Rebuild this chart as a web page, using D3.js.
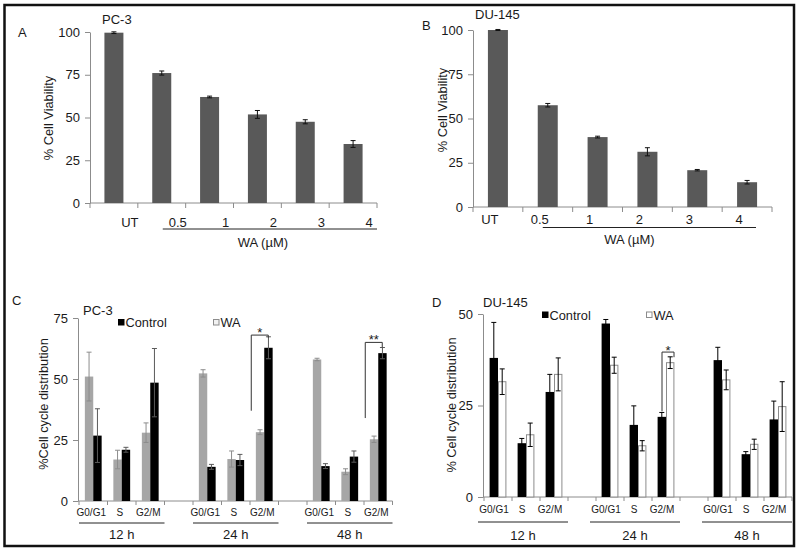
<!DOCTYPE html>
<html><head><meta charset="utf-8">
<script src="https://cdn.jsdelivr.net/npm/d3@7"></script>
<style>
body{margin:0;background:#fff}
svg{display:block;font-family:"Liberation Sans",Arial,sans-serif}
</style>
</head><body>
<svg id="c" width="800" height="552"></svg>
<script>
// ---------- data ----------
const viaCats = ["UT", "0.5", "1", "2", "3", "4"];
const pc3Via = [99.6, 76, 62, 51.8, 47.5, 34.5];
const pc3ViaErr = [0.5, 1.2, 0.5, 2.3, 1.2, 2.0];
const du145Via = [100, 57.5, 39.5, 31.2, 20.8, 14];
const du145ViaErr = [0.3, 1.0, 0.5, 2.3, 0.4, 1.0];
const viaTicks = [0, 25, 50, 75, 100];

const phases = ["G0/G1", "S", "G2/M"];
const times = ["12 h", "24 h", "48 h"];

// PC-3 cycle (order: 12h G0/G1,S,G2/M, 24h ..., 48h ...)
const pc3Gray = [51, 17, 28, 52.3, 17.2, 28.2, 58, 12, 25.3];
const pc3GrayErr = [10, 3.8, 4, 1.5, 3.3, 1, 0.5, 1.2, 1.3];
const pc3Black = [26.8, 21, 48.5, 14, 16.8, 62.8, 14.3, 18.2, 60.6];
const pc3BlackErr = [11, 1, 14, 1, 2.3, 4.5, 1, 2.3, 2.3];
const pc3Ticks = [0, 25, 50, 75];

// DU-145 cycle
const duControl = [38, 14.7, 28.7, 47.4, 19.7, 21.9, 37.4, 11.7, 21.2];
const duControlErr = [9.7, 1.3, 4.8, 1.1, 5.2, 1.2, 3.5, 0.7, 5];
const duWA = [31.5, 17, 33.5, 36, 14, 36.7, 32, 14.4, 24.7];
const duWAErr = [3.5, 3.2, 4.5, 2.2, 1.4, 1.6, 2.7, 1.4, 6.8];
const duTicks = [0, 25, 50];

// significance brackets: time index, phase index, label, y-values (low-left, top, low-right)
const pc3Sig = [
  {t: 1, p: 2, label: "*", low: 37, top: 68, right: 67},
  {t: 2, p: 2, label: "**", low: 34, top: 65, right: 63}
];
const duSig = [
  {t: 1, p: 2, label: "*", low: 23.4, top: 39.6, right: 38.2}
];

// ---------- drawing ----------
const svg = d3.select("#c");
const AX = "#8c8c8c", TXT = "#1a1a1a";

svg.append("rect").attr("x", 4.5).attr("y", 5).attr("width", 789.5).attr("height", 541)
  .attr("fill", "none").attr("stroke", "#111").attr("stroke-width", 2.5);

function txt(g, x, y, s, size, anchor) {
  return g.append("text").attr("x", x).attr("y", y).attr("font-size", size)
    .attr("fill", TXT).attr("text-anchor", anchor || "start").text(s);
}
function vTitle(g, x, y, s) {
  g.append("text").attr("transform", `translate(${x},${y}) rotate(-90)`)
    .attr("text-anchor", "middle").attr("font-size", 12.8).attr("fill", TXT).text(s);
}
function yAxis(g, y, x0, ticks) {
  const a = g.append("g").attr("transform", `translate(${x0},0)`)
    .call(d3.axisLeft(y).tickValues(ticks).tickSize(5).tickSizeOuter(0).tickPadding(5));
  a.select(".domain").attr("stroke", AX);
  a.selectAll(".tick line").attr("stroke", AX);
  a.selectAll(".tick text").attr("font-size", 13).attr("fill", TXT)
    .attr("font-family", '"Liberation Sans",Arial,sans-serif');
}
function errBars(g, data, col) {
  data.forEach(d => {
    g.append("path").attr("d",
      `M${d.x - 2.5},${d.y1}H${d.x + 2.5}M${d.x},${d.y1}V${d.y2}M${d.x - 2.5},${d.y2}H${d.x + 2.5}`)
      .attr("stroke", col).attr("stroke-width", 1).attr("fill", "none");
  });
}

function viability(vals, errs, o) {
  const g = svg.append("g");
  const x = d3.scaleBand().domain(viaCats).range(o.xr);
  const y = d3.scaleLinear().domain([0, 100]).range(o.yr);
  const bw = x.bandwidth();
  yAxis(g, y, o.xr[0], viaTicks);
  g.append("line").attr("x1", o.xr[0]).attr("x2", o.xr[1]).attr("y1", y(0)).attr("y2", y(0)).attr("stroke", AX);
  d3.range(viaCats.length + 1).forEach(i => {
    const xx = o.xr[0] + i * x.step();
    g.append("line").attr("x1", xx).attr("x2", xx).attr("y1", y(0)).attr("y2", y(0) + 5).attr("stroke", AX);
  });
  g.selectAll("rect.bar").data(vals).enter().append("rect")
    .attr("x", (d, i) => x(viaCats[i]) + bw / 2 - o.barW / 2).attr("width", o.barW)
    .attr("y", d => y(d)).attr("height", d => y(0) - y(d)).attr("fill", "#595959");
  errBars(g, vals.map((v, i) => ({x: x(viaCats[i]) + bw / 2, y1: y(v + errs[i]), y2: y(v - errs[i])})), "#111");
  viaCats.forEach(c => txt(g, x(c) + bw / 2 + o.labelDx, o.labelY, c, 13, "middle"));
  const u0 = x(viaCats[1]) + bw / 2 + o.ulDx, u1 = o.xr[1] + o.ulEnd;
  g.append("line").attr("x1", u0).attr("x2", u1).attr("y1", o.ulY).attr("y2", o.ulY).attr("stroke", "#222");
  txt(g, (u0 + u1) / 2 + o.waDx, o.waY, "WA (µM)", 13, "middle");
  vTitle(g, o.titleX, o.titleY, "% Cell Viability");
  txt(g, o.letter[0], o.letter[1], o.letter[2], 13);
  txt(g, o.cell[0], o.cell[1], o.cell[2], 13);
}

viability(pc3Via, pc3ViaErr, {
  xr: [90, 377], yr: [203, 32], barW: 19, labelDx: 16, labelY: 226.5,
  ulDx: 1, ulEnd: 0, ulY: 229, waDx: -7, waY: 247,
  titleX: 53, titleY: 118, letter: [18, 37, "A"], cell: [102, 24, "PC-3"]
});
viability(du145Via, du145ViaErr, {
  xr: [473, 772], yr: [207, 30], barW: 20, labelDx: -8, labelY: 224,
  ulDx: -5, ulEnd: -16, ulY: 227.5, waDx: -20, waY: 244,
  titleX: 447, titleY: 110, letter: [422, 30, "B"], cell: [475, 19, "DU-145"]
});

function cycle(s1, e1, s2, e2, sig, o) {
  const g = svg.append("g");
  const x = d3.scaleBand().domain(d3.range(11)).range(o.xr);
  const y = d3.scaleLinear().domain([0, o.ymax]).range(o.yr);
  const bw = x.bandwidth();
  const cx = (t, p) => x(t * 4 + p) + bw / 2;
  yAxis(g, y, o.xr[0] - 1, o.ticks);
  g.append("line").attr("x1", o.xr[0] - 1).attr("x2", o.xr[1]).attr("y1", y(0)).attr("y2", y(0)).attr("stroke", AX);
  d3.range(12).forEach(i => {
    const xx = o.xr[0] + i * x.step();
    g.append("line").attr("x1", xx).attr("x2", xx).attr("y1", y(0)).attr("y2", y(0) + 4).attr("stroke", AX);
  });
  const items = [];
  times.forEach((t, ti) => phases.forEach((p, pi) => items.push({ti, pi, k: ti * 3 + pi})));
  const bW = o.barW;
  items.forEach(d => {
    const c = cx(d.ti, d.pi);
    g.append("rect").attr("x", c - bW).attr("width", bW).attr("y", y(s1[d.k])).attr("height", y(0) - y(s1[d.k]))
      .attr("fill", o.c1.fill).attr("stroke", o.c1.stroke).attr("stroke-width", o.c1.stroke === "none" ? 0 : 1);
    g.append("rect").attr("x", c + (o.c2.stroke === "none" ? 0 : 0.5)).attr("width", bW - (o.c2.stroke === "none" ? 0 : 1))
      .attr("y", y(s2[d.k])).attr("height", y(0) - y(s2[d.k]))
      .attr("fill", o.c2.fill).attr("stroke", o.c2.stroke).attr("stroke-width", o.c2.stroke === "none" ? 0 : 1);
  });
  errBars(g, items.map(d => ({x: cx(d.ti, d.pi) - bW / 2, y1: y(s1[d.k] + e1[d.k]), y2: y(s1[d.k] - e1[d.k])})), o.c1.err);
  errBars(g, items.map(d => ({x: cx(d.ti, d.pi) + bW / 2, y1: y(s2[d.k] + e2[d.k]), y2: y(s2[d.k] - e2[d.k])})), o.c2.err);
  items.forEach(d => txt(g, cx(d.ti, d.pi) + o.phDx, o.phY, phases[d.pi], 10, "middle"));
  times.forEach((t, ti) => {
    const a = x(ti * 4) + o.ulPad, b = x(ti * 4 + 2) + bw;
    g.append("line").attr("x1", a).attr("x2", b).attr("y1", o.ulY).attr("y2", o.ulY).attr("stroke", "#222");
    txt(g, (a + b) / 2, o.tY, t, 13, "middle");
  });
  sig.forEach(s => {
    const c = cx(s.t, s.p), l = c + o.sigL, r = c + o.sigR;
    g.append("path").attr("d", `M${l},${y(s.low)}V${y(s.top)}H${r}V${y(s.right)}`)
      .attr("fill", "none").attr("stroke", "#333").attr("stroke-width", 1);
    txt(g, (l + r) / 2, y(s.top) + o.starDy, s.label, 13, "middle");
  });
  // legend
  g.append("rect").attr("x", o.leg1[0]).attr("y", o.leg1[1]).attr("width", 6.5).attr("height", 6.5).attr("fill", "#000");
  txt(g, o.leg1[0] + 7.5, o.leg1[1] + 8, "Control", 12.8);
  g.append("rect").attr("x", o.leg2[0] + 0.5).attr("y", o.leg2[1] + 0.5).attr("width", 5.5).attr("height", 5.5)
    .attr("fill", o.leg2[2]).attr("stroke", "#8c8c8c");
  txt(g, o.leg2[0] + 7.5, o.leg2[1] + 8, "WA", 12.8);
  vTitle(g, o.titleX, o.titleY, o.title);
  txt(g, o.letter[0], o.letter[1], o.letter[2], 13);
  txt(g, o.cell[0], o.cell[1], o.cell[2], 13);
}

cycle(pc3Gray, pc3GrayErr, pc3Black, pc3BlackErr, pc3Sig, {
  xr: [79, 392.5], yr: [501, 318], ymax: 75, ticks: pc3Ticks, barW: 8.4,
  c1: {fill: "#a6a6a6", stroke: "none", err: "#8c8c8c"},
  c2: {fill: "#000", stroke: "none", err: "#5a5a5a"},
  phDx: -2, phY: 516, ulPad: 0, ulY: 523, tY: 539,
  sigL: -13, sigR: 4, starDy: 2,
  leg1: [118, 319], leg2: [213, 319, "#f2f2f2"],
  titleX: 48, titleY: 404, title: "%Cell cycle distribution",
  letter: [12, 305, "C"], cell: [83, 315, "PC-3"]
});

cycle(duControl, duControlErr, duWA, duWAErr, duSig, {
  xr: [484, 792], yr: [497, 314], ymax: 50, ticks: duTicks, barW: 8.4,
  c1: {fill: "#000", stroke: "none", err: "#000"},
  c2: {fill: "#fff", stroke: "#8c8c8c", err: "#000"},
  phDx: -4, phY: 513, ulPad: -6, ulY: 522, tY: 540,
  sigL: -4, sigR: 8, starDy: 3,
  leg1: [542, 311.5], leg2: [646, 311.5, "#fff"],
  titleX: 456, titleY: 405, title: "% Cell cycle distribution",
  letter: [432, 307, "D"], cell: [483, 307, "DU-145"]
});
</script>
</body></html>
